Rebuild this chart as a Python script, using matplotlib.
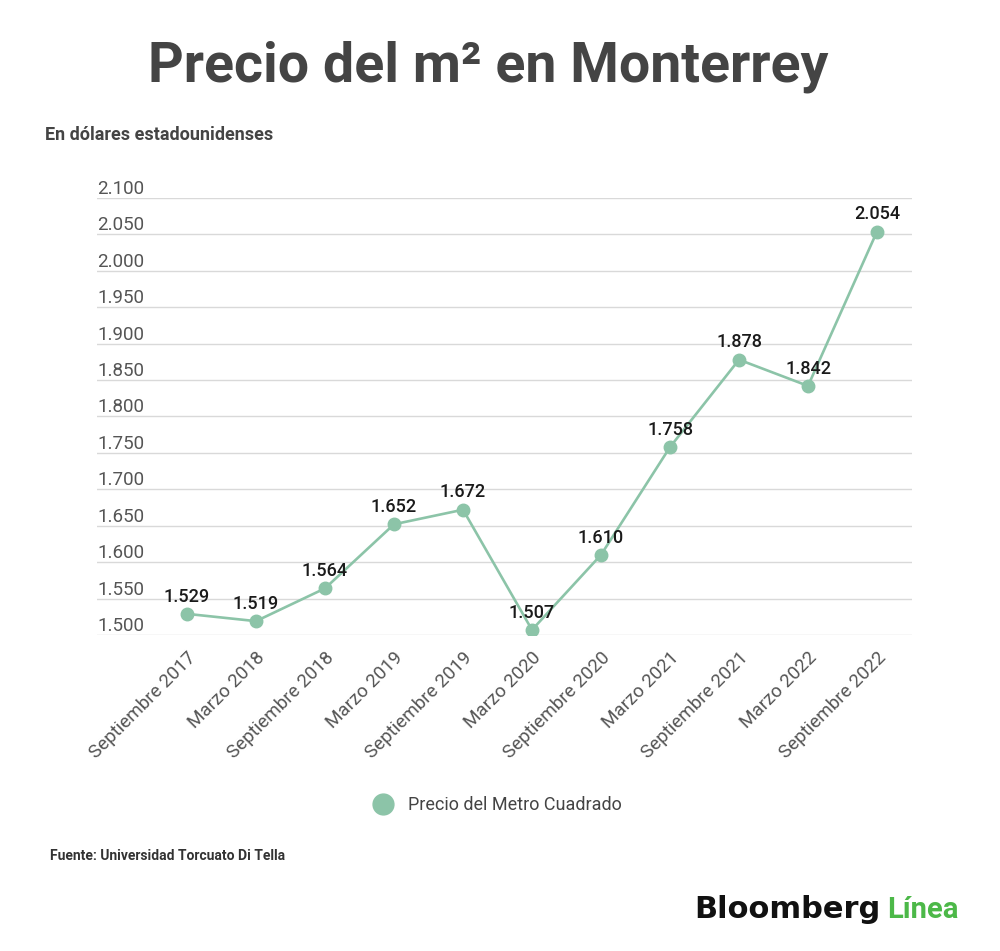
import matplotlib.pyplot as plt
from matplotlib.lines import Line2D

periods = ["Septiembre 2017", "Marzo 2018", "Septiembre 2018", "Marzo 2019",
           "Septiembre 2019", "Marzo 2020", "Septiembre 2020", "Marzo 2021",
           "Septiembre 2021", "Marzo 2022", "Septiembre 2022"]
price = [1529, 1519, 1564, 1652, 1672, 1507, 1610, 1758, 1878, 1842, 2054]
yticks = [1500, 1550, 1600, 1650, 1700, 1750, 1800, 1850, 1900, 1950, 2000, 2050, 2100]

green = "#8cc4a8"
grey = "#555555"

plt.rcParams['font.family'] = ['Roboto', 'DejaVu Sans']

fig = plt.figure(figsize=(10, 9.51), dpi=100)
ax = fig.add_axes([0.097, 0.3323, 0.815, 0.4595])

x = list(range(len(periods)))
ax.plot(x, price, color=green, lw=1.9, marker='o', ms=9, mec=green, mfc=green, zorder=3)

for xi, v in zip(x, price):
    lbl = f"{v:,}".replace(",", ".")
    ax.annotate(lbl, (xi, v), xytext=(0, 6), textcoords='offset points',
                ha='center', va='bottom', fontsize=13, fontweight='medium',
                color='#1a1a1a', zorder=4)

ax.set_xlim(-1.304, 10.507)
ax.set_ylim(1500, 2100)
ax.set_yticks(yticks)
ax.set_yticklabels([])
ax.tick_params(axis='y', length=0)
for t in yticks:
    ax.text(0, t, f"{t:,}".replace(",", "."), transform=ax.get_yaxis_transform(),
            ha='left', va='bottom', fontsize=13.5, color=grey)
ax.grid(axis='y', color='#d9d9d9', lw=1)
ax.set_axisbelow(True)
for s in ax.spines.values():
    s.set_visible(False)

ax.set_xticks(x)
ax.set_xticklabels(periods, rotation=45, ha='right', rotation_mode='anchor',
                   fontsize=13.5, color=grey)
ax.tick_params(axis='x', length=0, pad=10)

fig.text(0.488, 0.93, "Precio del m² en Monterrey", ha='center', va='center',
         fontsize=40, fontweight='bold', color='#444444')
fig.text(0.045, 1 - 135 / 951, "En dólares estadounidenses", ha='left', va='center',
         fontsize=13, fontweight='bold', color='#444444')

handle = Line2D([], [], ls='none', marker='o', ms=15, mfc=green, mec=green)
fig.legend([handle], ["Precio del Metro Cuadrado"], loc='center',
           bbox_to_anchor=(0.493, 1 - 805 / 951), frameon=False, fontsize=13,
           labelcolor='#444444', handletextpad=0.4)

fig.text(0.05, 1 - 856 / 951, "Fuente: Universidad Torcuato Di Tella", ha='left',
         va='center', fontsize=10, fontweight='bold', color='#333333')

fig.text(0.694, 1 - 910 / 951, "Bloomberg", ha='left', va='center', fontsize=22,
         fontweight='bold', color='#111111', family=['DejaVu Sans'])
fig.text(0.887, 1 - 910 / 951, "Línea", ha='left', va='center', fontsize=21,
         fontweight='bold', color='#4cb848')

fig.savefig("out.png", dpi=100, facecolor='white')
